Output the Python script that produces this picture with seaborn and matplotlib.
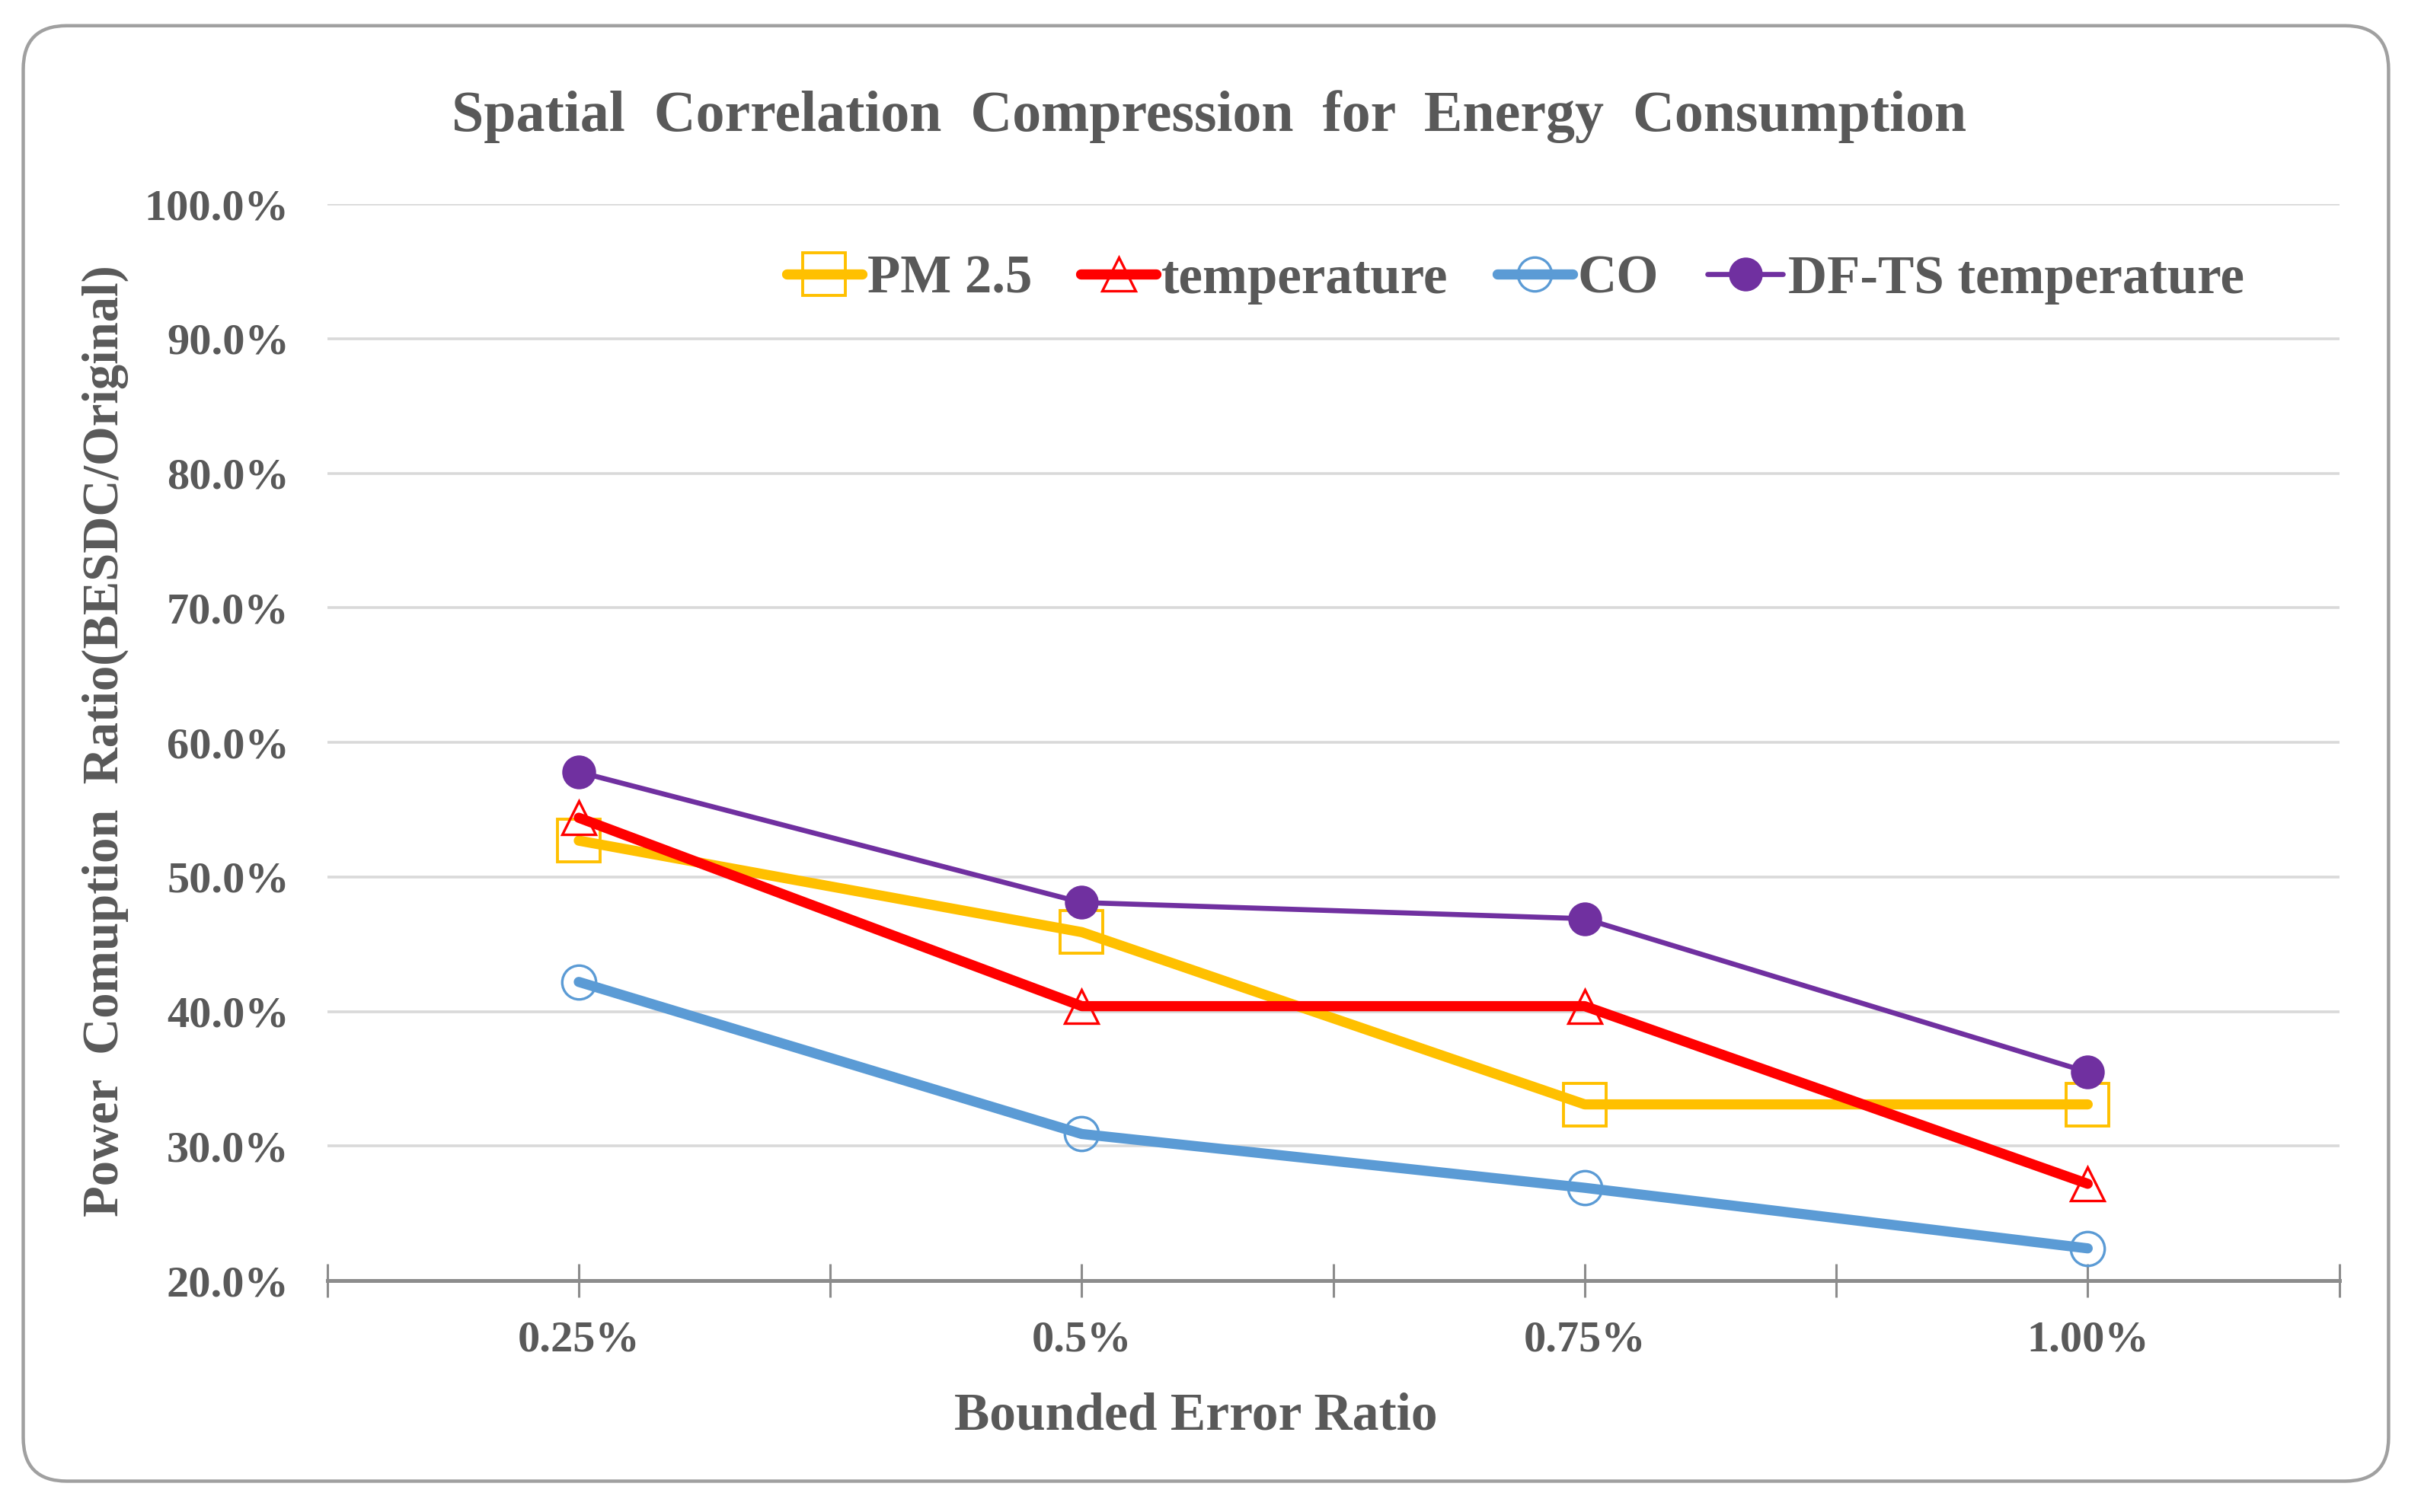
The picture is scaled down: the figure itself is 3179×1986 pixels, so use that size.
import numpy as np
import pandas as pd
import matplotlib
matplotlib.use("Agg")
import matplotlib.pyplot as plt
from matplotlib.patches import FancyBboxPatch
import seaborn as sns

# values (percent)
error_ratios = ["0.25%", "0.5%", "0.75%", "1.00%"]
pm25 = [52.7, 45.9, 33.1, 33.1]
temperature = [54.4, 40.4, 40.4, 27.2]
co = [42.2, 30.9, 26.9, 22.4]
dfts_temperature = [57.8, 48.1, 46.9, 35.5]

series_names = ["PM 2.5", "temperature", "CO", "DF-TS temperature"]
series_values = [pm25, temperature, co, dfts_temperature]

TEXT = "#595959"

sns.set_theme(style="white")
plt.rcParams["font.family"] = ["Liberation Serif", "DejaVu Serif"]
plt.rcParams["font.weight"] = "bold"

df = pd.DataFrame({
    "ratio": np.tile(error_ratios, len(series_names)),
    "value": np.concatenate(series_values),
    "series": np.repeat(series_names, len(error_ratios)),
})

fig = plt.figure(figsize=(15.895, 9.93), dpi=200)
ax = fig.add_axes([0.1352, 0.153, 0.8310, 0.712])

# rounded chart border
fig.patches.append(FancyBboxPatch((0.0096, 0.0204), 0.977, 0.9626,
                                  boxstyle="round,pad=0,rounding_size=0.018",
                                  transform=fig.transFigure, fill=False,
                                  edgecolor="#A0A0A0", linewidth=1.6,
                                  mutation_aspect=1.6))

styles = {
    "PM 2.5":            dict(color="#FFC000", lw=4.8, marker="s", ms=20, mfc="none", mew=1.4),
    "temperature":       dict(color="#FF0000", lw=4.8, marker="^", ms=16, mfc="none", mew=1.2),
    "CO":                dict(color="#5B9BD5", lw=4.8, marker="o", ms=16, mfc="none", mew=1.2),
    "DF-TS temperature": dict(color="#7030A0", lw=2.4, marker="o", ms=16, mfc="#7030A0", mew=0),
}

for name in series_names:
    st = styles[name]
    sub = df[df["series"] == name]
    sns.lineplot(data=sub, x="ratio", y="value", ax=ax, sort=False,
                 color=st["color"], linewidth=st["lw"], marker=st["marker"],
                 markersize=st["ms"], markerfacecolor=st["mfc"],
                 markeredgecolor=st["color"], markeredgewidth=st["mew"],
                 label=name, zorder=3)

ax.set_xlim(-0.5, 3.5)
ax.set_ylim(20, 100)
ax.set_yticks(np.arange(20, 101, 10))
ax.set_yticklabels([f"{v:.1f}%" for v in np.arange(20, 101, 10)])
ax.yaxis.grid(True, color="#D9D9D9", linewidth=1.3)
ax.xaxis.grid(False)
for side in ["top", "right", "left"]:
    ax.spines[side].set_visible(False)
ax.spines["bottom"].set_color("#8C8C8C")
ax.spines["bottom"].set_linewidth(1.8)

ax.set_xticks(np.arange(-0.5, 3.6, 0.5))
ax.set_xticklabels(["", error_ratios[0], "", error_ratios[1], "", error_ratios[2], "", error_ratios[3], ""])
ax.tick_params(axis="x", bottom=True, direction="inout", length=16, width=1.1, color="#8C8C8C",
               labelsize=21, labelcolor=TEXT, pad=11)
ax.tick_params(axis="y", left=False, length=0, labelsize=21, labelcolor=TEXT, pad=18)

ax.set_xlabel("")
ax.set_ylabel("")
fig.text(0.494, 0.063, "Bounded Error Ratio", ha="center", va="center",
         fontsize=25, color=TEXT, fontweight="bold")
fig.text(0.0436, 0.51, "Power  Comuption  Ratio(BESDC/Original)", ha="center",
         va="center", rotation=90, fontsize=24, color=TEXT, fontweight="bold")
fig.text(0.4995, 0.923, "Spatial  Correlation  Compression  for  Energy  Consumption",
         ha="center", va="center", fontsize=27.3, color=TEXT, fontweight="bold")

handles, labels = ax.get_legend_handles_labels()
if ax.get_legend():
    ax.get_legend().remove()
leg = fig.legend(handles, labels, loc="center", bbox_to_anchor=(0.626, 0.815),
                 ncol=4, frameon=False, fontsize=25.5, handlelength=1.4,
                 handletextpad=0.1, columnspacing=0.9)
for t in leg.get_texts():
    t.set_color(TEXT)

fig.savefig("out.png", dpi=200, facecolor="white")
